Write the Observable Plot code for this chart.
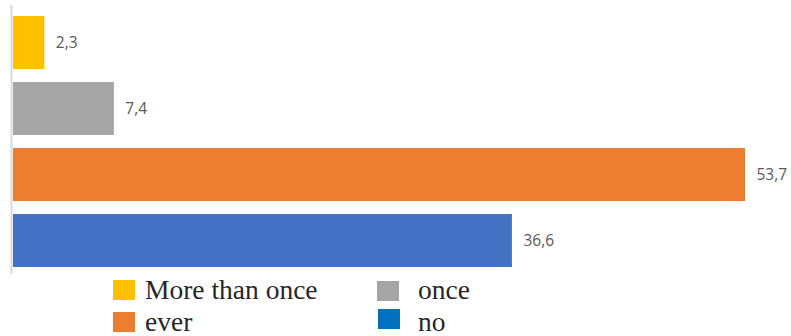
<!DOCTYPE html>
<html>
<head>
<meta charset="utf-8">
<script src="https://cdn.jsdelivr.net/npm/d3@7"></script>
<script src="https://cdn.jsdelivr.net/npm/@observablehq/plot@0.6"></script>
<style>
  html, body { margin: 0; padding: 0; background: #fff; }
  #chart svg { display: block; }
  #legend { position: relative; width: 791px; height: 60px; font-family: "Liberation Serif", "Times New Roman", serif; font-size: 27.5px; color: #262626; }
  .sw { position: absolute; width: 22px; height: 20px; }
  .lt { position: absolute; line-height: 27px; white-space: nowrap; }
</style>
</head>
<body>
<div id="chart"></div>
<div id="legend"></div>
<script>
const categories = ["More than once", "once", "ever", "no"];
const values = [2.3, 7.4, 53.7, 36.6];
const valueLabels = ["2,3", "7,4", "53,7", "36,6"];
const barColors = ["#FFC000", "#A5A5A5", "#ED7D31", "#4472C4"];
const legendLabels = ["More than once", "once", "ever", "no"];
const legendColors = ["#FFC000", "#A5A5A5", "#ED7D31", "#0070C0"];

const data = categories.map((c, i) => ({cat: c, value: values[i], label: valueLabels[i]}));

const chart = Plot.plot({
  width: 791,
  height: 276,
  marginLeft: 13,
  marginRight: 46,
  marginTop: 9,
  marginBottom: 2,
  x: {domain: [0, 53.7], axis: null},
  y: {domain: categories, axis: null, paddingInner: 0.2, paddingOuter: 0.1},
  color: {domain: categories, range: barColors},
  marks: [
    Plot.barX(data, {x: "value", y: "cat", fill: "cat"}),
    Plot.text(data, {x: "value", y: "cat", text: "label", dx: 11, textAnchor: "start", fill: "#595959", fontSize: 15.5, fontFamily: "Open Sans"}),
    Plot.ruleX([0], {dx: -2, stroke: "#d9d9d9", strokeWidth: 2, insetTop: -4})
  ]
});
document.getElementById("chart").appendChild(chart);

// legend layout (2 columns x 2 rows)
const legend = document.getElementById("legend");
const swPos = [[113, 4], [377, 5], [113, 36], [378, 33]];
const txPos = [[145, 0], [418, 0], [145, 32], [418, 32]];
legendLabels.forEach((lab, i) => {
  const s = document.createElement("div");
  s.className = "sw";
  s.style.left = swPos[i][0] + "px";
  s.style.top = swPos[i][1] + "px";
  s.style.background = legendColors[i];
  legend.appendChild(s);
  const t = document.createElement("div");
  t.className = "lt";
  t.style.left = txPos[i][0] + "px";
  t.style.top = txPos[i][1] + "px";
  t.textContent = lab;
  legend.appendChild(t);
});
</script>
</body>
</html>
